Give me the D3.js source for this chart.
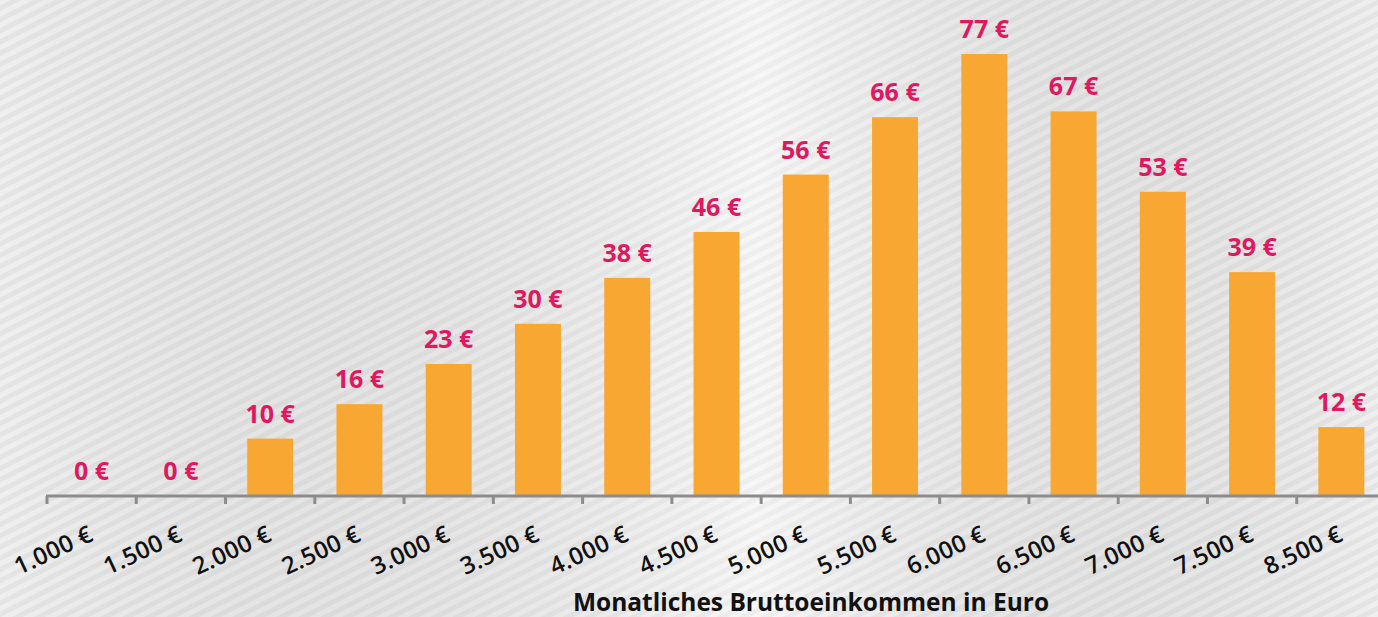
<!DOCTYPE html>
<html>
<head>
<meta charset="utf-8">
<script src="https://cdn.jsdelivr.net/npm/d3@7"></script>
<style>
  html, body { margin: 0; padding: 0; background: #eaeaea; }
  svg { display: block; }
</style>
</head>
<body>
<script>
// Data
const categories = ["1.000 €", "1.500 €", "2.000 €", "2.500 €", "3.000 €", "3.500 €", "4.000 €", "4.500 €",
  "5.000 €", "5.500 €", "6.000 €", "6.500 €", "7.000 €", "7.500 €", "8.500 €"];
const values = [0, 0, 10, 16, 23, 30, 38, 46, 56, 66, 77, 67, 53, 39, 12];
const axisTitle = "Monatliches Bruttoeinkommen in Euro";

const width = 1378, height = 617;
const baseY = 496;

const svg = d3.select("body").append("svg")
    .attr("width", width)
    .attr("height", height);

// striped background
const defs = svg.append("defs");
const pat = defs.append("pattern")
    .attr("id", "stripes")
    .attr("width", 10)
    .attr("height", 10)
    .attr("patternUnits", "userSpaceOnUse")
    .attr("patternTransform", "rotate(-27)");
pat.append("rect").attr("width", 10).attr("height", 10).attr("fill", "#e9e9e9");
pat.append("rect").attr("width", 10).attr("height", 5).attr("fill", "#f4f4f4");

const grad = defs.append("linearGradient").attr("id", "shade");
grad.append("stop").attr("offset", "0%").attr("stop-color", "#000").attr("stop-opacity", 0.02);
grad.append("stop").attr("offset", "55%").attr("stop-color", "#fff").attr("stop-opacity", 0.25);
grad.append("stop").attr("offset", "100%").attr("stop-color", "#000").attr("stop-opacity", 0.02);

svg.append("rect").attr("width", width).attr("height", height).attr("fill", "url(#stripes)");
svg.append("rect").attr("width", width).attr("height", height).attr("fill", "url(#shade)");

const x = d3.scaleBand()
    .domain(categories)
    .range([47, 1386])
    .paddingInner(0)
    .paddingOuter(0);

const y = d3.scaleLinear()
    .domain([0, 77])
    .range([baseY, 54]);

const barW = x.bandwidth() * 0.515;

// bars
svg.append("g")
  .selectAll("rect")
  .data(values)
  .join("rect")
    .attr("x", (d, i) => x(categories[i]) + (x.bandwidth() - barW) / 2)
    .attr("y", d => y(d))
    .attr("width", barW)
    .attr("height", d => baseY - y(d))
    .attr("fill", "#f8a733");

// value labels
svg.append("g")
    .attr("font-family", "'Open Sans', sans-serif")
    .attr("font-weight", 700)
    .attr("font-size", 25)
    .attr("fill", "#e2175e")
    .attr("text-anchor", "middle")
  .selectAll("text")
  .data(values)
  .join("text")
    .attr("x", (d, i) => x(categories[i]) + x.bandwidth() / 2)
    .attr("y", d => y(d) - 16)
    .text(d => d + " €");

// x axis
const axis = svg.append("g");
axis.append("line")
    .attr("x1", 46).attr("x2", width)
    .attr("y1", baseY).attr("y2", baseY)
    .attr("stroke", "#8c8c8c")
    .attr("stroke-width", 3);

axis.selectAll(".tick")
  .data(categories)
  .join("line")
    .attr("class", "tick")
    .attr("x1", d => x(d)).attr("x2", d => x(d))
    .attr("y1", baseY).attr("y2", baseY + 8)
    .attr("stroke", "#8c8c8c")
    .attr("stroke-width", 3);

axis.selectAll(".lbl")
  .data(categories)
  .join("text")
    .attr("class", "lbl")
    .attr("transform", d => `translate(${x(d) + x.bandwidth() / 2 + 3},${baseY + 44}) rotate(-25)`)
    .attr("text-anchor", "end")
    .attr("font-family", "'Open Sans', sans-serif")
    .attr("font-weight", 600)
    .attr("font-size", 24)
    .attr("letter-spacing", 0.3)
    .attr("fill", "#111")
    .text(d => d);

svg.append("text")
    .attr("x", 811)
    .attr("y", 611)
    .attr("text-anchor", "middle")
    .attr("font-family", "'Open Sans', sans-serif")
    .attr("font-weight", 700)
    .attr("font-size", 24.5)
    .attr("fill", "#111")
    .text(axisTitle);
</script>
</body>
</html>
